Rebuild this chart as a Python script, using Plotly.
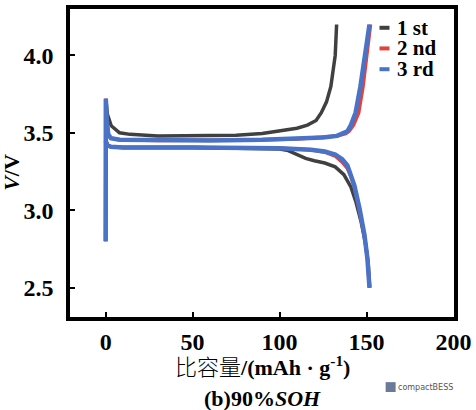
import plotly.graph_objects as go

# ---- data (specific capacity mAh/g, voltage V) ----
c1_charge_x = [0, 0.1, 1, 3.2, 8, 14, 30, 50, 75, 90, 100, 110, 116, 121, 124, 127, 129.5, 131, 132, 132.8]
c1_charge_v = [2.80, 3.72, 3.62, 3.545, 3.50, 3.49, 3.48, 3.48, 3.485, 3.495, 3.51, 3.53, 3.55, 3.58, 3.63, 3.70, 3.80, 3.90, 4.00, 4.20]
c1_dis_x = [0, 1, 3, 10, 50, 90, 100, 105, 110, 115, 120, 126, 132, 137, 141, 144, 147, 149.5, 151, 151.8]
c1_dis_v = [3.45, 3.42, 3.41, 3.405, 3.405, 3.40, 3.395, 3.385, 3.36, 3.335, 3.32, 3.305, 3.28, 3.23, 3.15, 3.05, 2.92, 2.78, 2.65, 2.50]

c2_charge_x = [0, 0.1, 0.6, 1.5, 3, 8, 30, 60, 90, 110, 125, 133, 138, 140, 142.5, 145.5, 148, 150.5, 152.3]
c2_charge_v = [2.80, 3.72, 3.58, 3.49, 3.465, 3.455, 3.45, 3.45, 3.455, 3.46, 3.47, 3.48, 3.495, 3.51, 3.55, 3.63, 3.80, 4.01, 4.20]
c2_dis_x = [0, 1, 3, 10, 50, 100, 118, 126, 132, 136, 139, 141, 143, 146, 148.8, 150.5, 151.7]
c2_dis_v = [3.45, 3.42, 3.41, 3.405, 3.405, 3.40, 3.39, 3.375, 3.35, 3.31, 3.27, 3.22, 3.15, 3.00, 2.84, 2.69, 2.50]

c3_charge_x = [0, 0.1, 0.6, 1.5, 3, 8, 30, 60, 90, 110, 125, 133, 137, 139, 141, 143.7, 146.5, 149.4, 151.7]
c3_charge_v = [2.80, 3.72, 3.58, 3.49, 3.465, 3.455, 3.45, 3.45, 3.455, 3.46, 3.47, 3.48, 3.495, 3.51, 3.55, 3.63, 3.80, 4.01, 4.20]
c3_dis_x = [0, 1, 3, 10, 50, 100, 118, 126, 132, 136, 139, 141, 143, 146, 148.8, 150.5, 151.7]
c3_dis_v = [3.45, 3.42, 3.41, 3.405, 3.405, 3.40, 3.39, 3.38, 3.36, 3.33, 3.29, 3.23, 3.16, 3.01, 2.84, 2.69, 2.50]

cycle_names = ["1 st", "2 nd", "3 rd"]
cycle_colors = ["#404040", "#e5413a", "#4a72c6"]
cycle_widths = [3.5, 3.5, 4.5]

x_ticks = [0, 50, 100, 150, 200]
y_ticks = [2.5, 3.0, 3.5, 4.0]

SERIF = "Liberation Serif, Times New Roman, serif"

fig = go.Figure()
series = [
    (c1_charge_x, c1_charge_v, c1_dis_x, c1_dis_v),
    (c2_charge_x, c2_charge_v, c2_dis_x, c2_dis_v),
    (c3_charge_x, c3_charge_v, c3_dis_x, c3_dis_v),
]
for (cx, cv, dx, dv), name, col, w in zip(series, cycle_names, cycle_colors, cycle_widths):
    for xs, vs in ((cx, cv), (dx, dv)):
        fig.add_trace(go.Scatter(x=xs, y=vs, mode="lines", name=name, line=dict(color=col, width=w),
                                 showlegend=False, hoverinfo="skip"))

# compact legend (short dashes + bold labels), placed in the upper right of the plot
legend_y = [0.939, 0.872, 0.8045]
annotations = []
shapes = []
for name, col, ly in zip(cycle_names, cycle_colors, legend_y):
    shapes.append(dict(type="line", xref="paper", yref="paper", x0=0.806, x1=0.832, y0=ly, y1=ly,
                       line=dict(color=col, width=4)))
    annotations.append(dict(text=f"<b>{name}</b>", xref="paper", yref="paper", x=0.8475, y=ly,
                            xanchor="left", yanchor="middle", showarrow=False, height=20,
                            font=dict(family=SERIF, size=21, color="black")))

annotations += [
    dict(text="<span style=\"font-family:Noto Sans CJK SC;font-weight:300\">比容量</span><b>/(mAh · g<sup>-1</sup>)</b>",
         xref="paper", yref="paper", x=0.5, y=-0.098, xanchor="center", yanchor="top",
         showarrow=False, font=dict(family=SERIF, size=22, color="black")),
    dict(text="<b>(b)90%<i>SOH</i></b>",
         xref="paper", yref="paper", x=0.5, y=-0.216, xanchor="center", yanchor="top",
         showarrow=False, font=dict(family=SERIF, size=22, color="black")),
    dict(text="<b><i>V</i>/V</b>", textangle=-90,
         xref="paper", yref="paper", x=-0.152, y=0.47, xanchor="center", yanchor="middle",
         showarrow=False, font=dict(family=SERIF, size=22, color="black")),
    dict(text="compactBESS", xref="paper", yref="paper", x=1.003, y=-0.2276,
         xanchor="right", yanchor="middle", showarrow=False,
         font=dict(family="DejaVu Sans", size=8, color="#555555")),
]
shapes.append(dict(type="rect", xref="paper", yref="paper", x0=0.822, x1=0.848, y0=-0.2436, y1=-0.2115,
                   fillcolor="#6b7a99", line=dict(width=0)))

fig.update_layout(
    width=476, height=410,
    margin=dict(l=70, r=19, t=5, b=93),
    plot_bgcolor="white", paper_bgcolor="white",
    font=dict(family=SERIF, color="black"),
    showlegend=False,
    xaxis=dict(range=[-20.5, 200.3], tickvals=x_ticks, ticktext=[f"<b>{t}</b>" for t in x_ticks],
               showline=True, linewidth=3.5, linecolor="black", mirror=True,
               ticks="inside", ticklen=5, tickwidth=2, tickcolor="black",
               showgrid=False, zeroline=False, tickfont=dict(size=24, family=SERIF)),
    yaxis=dict(range=[2.31, 4.30], tickvals=y_ticks, ticktext=[f"<b>{t:.1f}</b>" for t in y_ticks],
               showline=True, linewidth=3.5, linecolor="black", mirror=True,
               ticks="inside", ticklen=5, tickwidth=2, tickcolor="black",
               showgrid=False, zeroline=False, tickfont=dict(size=24, family=SERIF),
               ticklabelstandoff=8),
    annotations=annotations,
    shapes=shapes,
)

fig.write_html("out.html")
